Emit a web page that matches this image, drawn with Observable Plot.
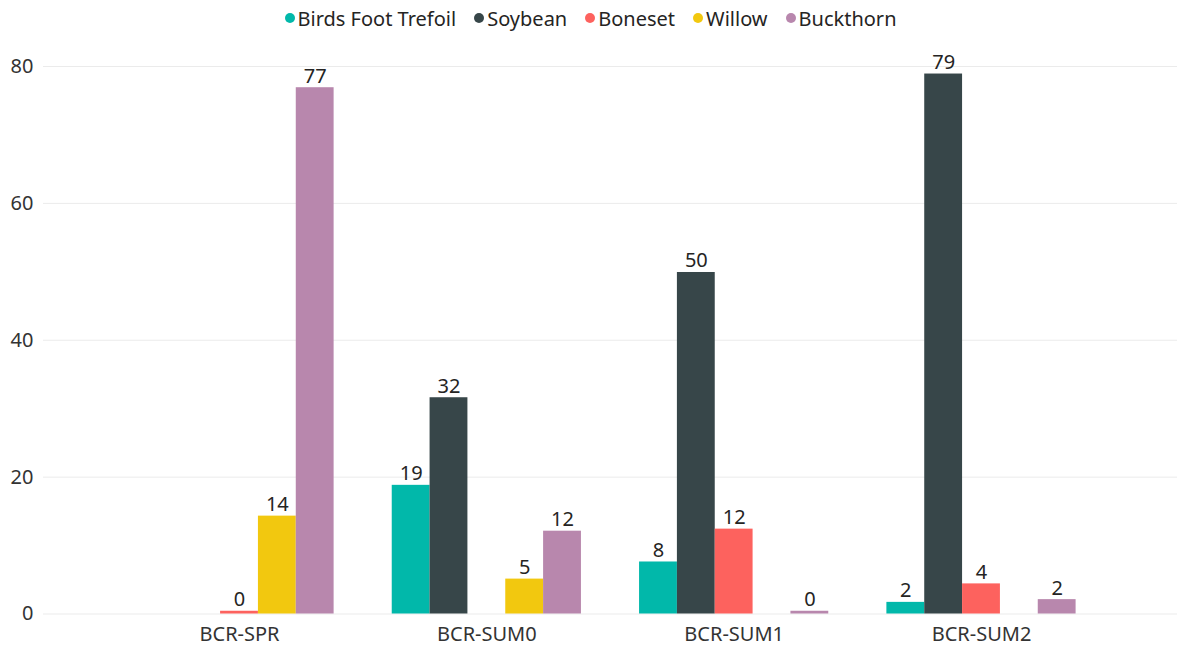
<!DOCTYPE html>
<html><head><meta charset="utf-8">
<script src="https://cdn.jsdelivr.net/npm/d3@7"></script>
<script src="https://cdn.jsdelivr.net/npm/@observablehq/plot@0.6"></script>
<style>
body{margin:0;background:#fff;font-family:"Segoe UI","Noto Sans","Open Sans",sans-serif;}
#legend{height:36px;display:flex;justify-content:center;align-items:center;font-size:20px;color:#252423;padding-left:4px;}
#legend .item{display:flex;align-items:center;margin:0 9px;}
#legend .dot{width:10px;height:10px;border-radius:50%;margin-right:3px;}
#chart{position:relative;width:1177px;height:609px;}
#chart svg{position:absolute;left:0;top:0;}
</style></head><body><div id="legend"></div><div id="chart"></div>
<script>
const groups = ["BCR-SPR","BCR-SUM0","BCR-SUM1","BCR-SUM2"];
const series = ["Birds Foot Trefoil","Soybean","Boneset","Willow","Buckthorn"];
const colors = ["#01B8AA","#374649","#FD625E","#F2C80F","#B887AD"];
const birdsFootTrefoil = [null, 18.8, 7.6, 1.7];
const soybean = [null, 31.6, 49.9, 78.9];
const boneset = [0.4, null, 12.4, 4.4];
const willow = [14.3, 5.1, null, null];
const buckthorn = [76.9, 12.1, 0.4, 2.1];
const yTicks = [0, 20, 40, 60, 80];

const seriesValues = [birdsFootTrefoil, soybean, boneset, willow, buckthorn];
const data = [];
groups.forEach((g, i) => {
  seriesValues.forEach((arr, j) => {
    if (arr[i] != null) data.push({group: g, series: series[j], value: arr[i]});
  });
});

const font = '"Segoe UI","Noto Sans","Open Sans",sans-serif';
const common = {
  width: 1177, height: 609,
  marginLeft: 43, marginRight: 0, marginTop: 30, marginBottom: 31.5
};

const grid = Plot.plot({
  ...common,
  style: {fontFamily: font, fontSize: "20px", color: "#333", background: "transparent", overflow: "visible"},
  x: {axis: null},
  y: {domain: [0, 80], ticks: yTicks, tickSize: 0, tickPadding: 10, label: null},
  marks: [Plot.ruleY(yTicks, {stroke: "#ebebeb"})]
});

const chart = Plot.plot({
  ...common,
  style: {fontFamily: font, fontSize: "20px", color: "#333", background: "transparent", overflow: "visible"},
  fx: {domain: groups, paddingInner: 0.235, paddingOuter: 0.41, round: false, axis: "bottom", label: null, tickSize: 0, tickPadding: 13},
  x: {domain: series, padding: 0, axis: null, round: false},
  y: {domain: [0, 80], axis: null},
  color: {domain: series, range: colors},
  marks: [
    Plot.barY(data, {fx: "group", x: "series", y: "value", fill: "series"}),
    Plot.text(data, {fx: "group", x: "series", y: "value", text: d => String(Math.round(d.value)), lineAnchor: "bottom", dy: -5, fill: "#252423", fontSize: 20})
  ]
});
const holder = document.getElementById("chart");
holder.appendChild(grid);
holder.appendChild(chart);

const legend = document.getElementById("legend");
series.forEach((s, i) => {
  const item = document.createElement("div");
  item.className = "item";
  const dot = document.createElement("span");
  dot.className = "dot";
  dot.style.background = chart.scale("color").apply(s);
  const label = document.createElement("span");
  label.textContent = s;
  item.appendChild(dot);
  item.appendChild(label);
  legend.appendChild(item);
});
</script>
</body></html>
